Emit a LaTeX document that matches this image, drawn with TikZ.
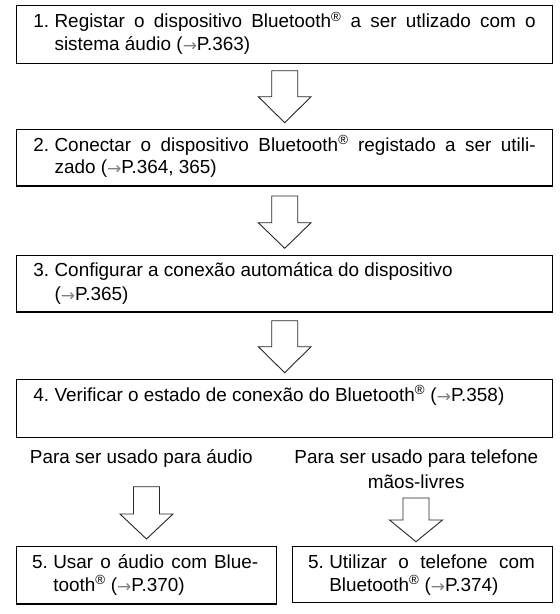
\documentclass[tikz,border=0pt]{standalone}
\usepackage{fontspec}
\setmainfont{Liberation Sans}
\newfontfamily\arrfont{DejaVu Sans}
\newcommand\msz{\fontsize{18.9}{22.3}\selectfont}
\newcommand\rarr{\raisebox{-1pt}{\arrfont\fontsize{17}{17}\selectfont\color{black!50}→}}
\newcommand\bt{Bluetooth\textsuperscript{®}}
\newcommand\numbox[1]{\makebox[21.3pt][l]{#1}}
\tikzset{
  box/.style={draw, line width=1.2pt, rectangle, inner sep=0pt, outer sep=0pt},
  txt/.style={anchor=base west, inner sep=0pt, outer sep=0pt, font=\msz},
  ctxt/.style={anchor=base, inner sep=0pt, outer sep=0pt, font=\msz},
  harrow/.style={draw=black!85, line width=0.9pt, fill=white, line join=miter},
}
\newcommand\blockarr[5]{% cx, top, shoulder, tip, head half width
  \begin{scope}[shift={(#1,#2)}]
    \draw[harrow] (-13,0) -- (13,0) -- (13,#3) -- (#5,#3) -- (0,#4) -- (-#5,#3) -- (-13,#3) -- cycle;
  \end{scope}}
\begin{document}
\begin{tikzpicture}[x=1pt,y=-1pt]
\useasboundingbox (0,0) rectangle (560,614);
% boxes
\node[box, minimum width=535.8pt, minimum height=57.6pt] (b1) at (284.4,34.5) {};
\node[box, minimum width=535.8pt, minimum height=56.5pt] (b2) at (284.4,157.75) {};
\node[box, minimum width=535.8pt, minimum height=56.5pt] (b3) at (284.4,283.75) {};
\node[box, minimum width=535.8pt, minimum height=57.8pt] (b4) at (284.4,408.4) {};
\node[box, minimum width=260pt, minimum height=57.6pt] (b5) at (146.7,575.2) {};
\node[box, minimum width=259.6pt, minimum height=56.6pt] (b6) at (422.5,574.5) {};
% texts
\node[txt] (t1a) at (33.3,27.7) {\numbox{1.}\makebox[481pt][s]{Registar o dispositivo \bt{} a ser utlizado com o}};
\node[txt] (t1b) at (54.6,50) {sistema áudio (\rarr P.363)};
\node[txt] (t2a) at (33.3,151.2) {\numbox{2.}\makebox[481pt][s]{Conectar o dispositivo \bt{} registado a ser utili-}};
\node[txt] (t2b) at (54.6,173.6) {zado (\rarr P.364, 365)};
\node[txt] (t3a) at (33.3,276.7) {\numbox{3.}Configurar a conexão automática do dispositivo};
\node[txt] (t3b) at (54.6,300) {(\rarr P.365)};
\node[txt] (t4a) at (33.3,401.2) {\numbox{4.}Verificar o estado de conexão do \bt{} (\rarr P.358)};
\node[txt] (l1) at (30,463.3) {Para ser usado para áudio};
\node[ctxt] (l2a) at (416.3,463.3) {Para ser usado para telefone};
\node[ctxt] (l2b) at (416.3,488.3) {mãos-livres};
\node[txt] (t5a) at (32,568.7) {\numbox{5.}\makebox[205pt][s]{Usar o áudio com Blue-}};
\node[txt] (t5b) at (53.3,591) {tooth\textsuperscript{®} (\rarr P.370)};
\node[txt] (t6a) at (308,568.7) {\numbox{5.}\makebox[205.5pt][s]{Utilizar o telefone com}};
\node[txt] (t6b) at (329.3,591) {\bt{} (\rarr P.374)};
% block arrows
\blockarr{284.7}{70.7}{26}{52}{26.4}
\blockarr{284.7}{196}{26.7}{52.3}{26.4}
\blockarr{284.7}{320.7}{26}{52}{26.4}
\blockarr{146.5}{486.7}{27.3}{52.3}{26.5}
\blockarr{416}{498}{22}{43.7}{26.5}
\end{tikzpicture}
\end{document}
